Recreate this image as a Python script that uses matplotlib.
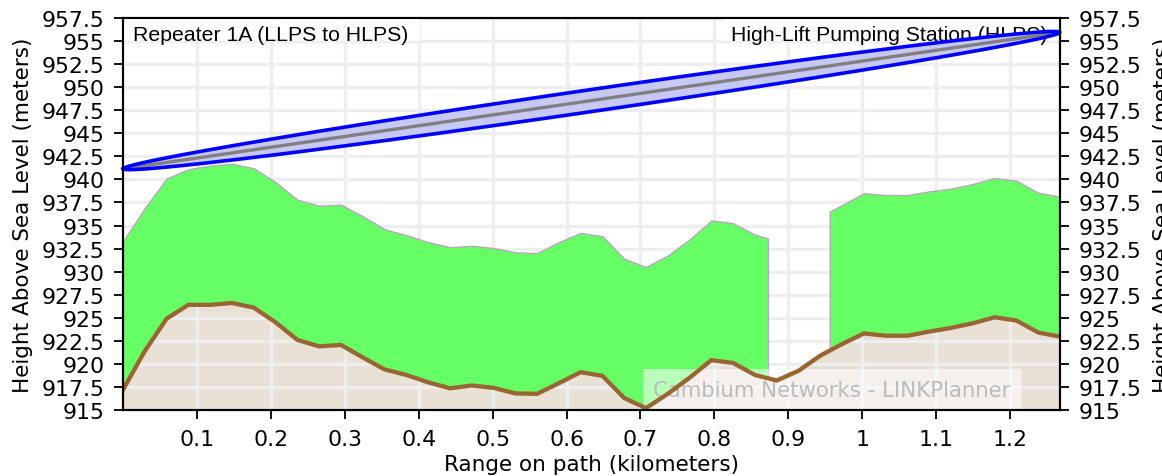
import numpy as np
import matplotlib
matplotlib.use('Agg')
import matplotlib.pyplot as plt
from matplotlib.patches import Rectangle

# ---------------- data ----------------
range_km = [0.0, 0.0295, 0.059, 0.0884, 0.1179, 0.1474, 0.1769, 0.2064, 0.2358, 0.2653,
            0.2948, 0.3243, 0.3538, 0.3832, 0.4127, 0.4422, 0.4717, 0.5012, 0.5306, 0.5601,
            0.5896, 0.6191, 0.6486, 0.678, 0.7075, 0.737, 0.7665, 0.796, 0.8254, 0.8549,
            0.8844, 0.9139, 0.9434, 0.9728, 1.0023, 1.0318, 1.0613, 1.0908, 1.1202, 1.1497,
            1.1792, 1.2087, 1.2382, 1.2676]
terrain_m = [917.2, 921.4, 924.9, 926.4, 926.4, 926.6, 926.1, 924.5, 922.6, 921.9,
             922.05, 920.7, 919.4, 918.8, 918.0, 917.35, 917.65, 917.4, 916.8, 916.75,
             917.9, 919.1, 918.7, 916.3, 915.2, 916.75, 918.5, 920.4, 920.1, 918.8,
             918.2, 919.25, 920.9, 922.15, 923.3, 923.05, 923.05, 923.5, 923.9, 924.4,
             925.05, 924.7, 923.4, 922.95]

clutter_a_km = range_km[0:30] + [0.8725]
clutter_a_top = [933.3, 936.9, 940.1, 941.1, 941.5, 941.7, 941.2, 939.7, 937.8, 937.15,
                 937.25, 936.0, 934.6, 933.95, 933.2, 932.65, 932.8, 932.55, 932.1, 932.0,
                 933.2, 934.2, 933.85, 931.4, 930.5, 931.75, 933.5, 935.55, 935.25, 934.0,
                 933.6]
clutter_b_km = [0.956, 1.0023, 1.0318, 1.0613, 1.0908, 1.1202, 1.1497, 1.1792, 1.2087,
                1.2382, 1.2676]
clutter_b_top = [936.5, 938.5, 938.3, 938.3, 938.7, 939.0, 939.5, 940.15, 939.85,
                 938.55, 938.15]

path_length_km = 1.2676
antenna_left_m = 941.15
antenna_right_m = 955.95
fresnel_radius_m = 1.2

y_ticks = [915, 917.5, 920, 922.5, 925, 927.5, 930, 932.5, 935, 937.5, 940, 942.5,
           945, 947.5, 950, 952.5, 955, 957.5]
x_ticks = [0.1, 0.2, 0.3, 0.4, 0.5, 0.6, 0.7, 0.8, 0.9, 1.0, 1.1, 1.2]
x_tick_labels = ['0.1', '0.2', '0.3', '0.4', '0.5', '0.6', '0.7', '0.8', '0.9', '1',
                 '1.1', '1.2']

left_title = 'Repeater 1A (LLPS to HLPS)'
right_title = 'High-Lift Pumping Station (HLPS)'
watermark = 'Cambium Networks - LINKPlanner'
x_label = 'Range on path (kilometers)'
y_label = 'Height Above Sea Level (meters)'

# ---------------- figure ----------------
plt.rcParams['font.family'] = ['DejaVu Sans']
fig = plt.figure(figsize=(11.62, 4.77), dpi=100)
ax = fig.add_axes([0.1059, 0.1384, 0.8063, 0.8218])

ymin, ymax = 915, 957.5
ax.set_xlim(0, path_length_km)
ax.set_ylim(ymin, ymax)

# earth
ax.fill_between(range_km, ymin, terrain_m, color='#e9e0d6', lw=0, zorder=0.2)

# grid
ax.set_axisbelow(True)
ax.grid(True, color='#eeeeee', lw=2.4, zorder=0.5)

# clutter (green)
for cx, ctop in ((clutter_a_km, clutter_a_top), (clutter_b_km, clutter_b_top)):
    cbot = np.interp(cx, range_km, terrain_m)
    ax.fill_between(cx, cbot, ctop, facecolor='#66ff66', edgecolor='#b8a8bc',
                    lw=1.0, zorder=1)

# watermark
ax.text(0.7567, 0.051, watermark, transform=ax.transAxes, ha='center', va='center',
        fontsize=15.3, color='#bbbbbb', zorder=1.5,
        bbox=dict(boxstyle='square,pad=0.5', facecolor='white', alpha=0.55,
                  edgecolor='none'))

# terrain line
ax.plot(range_km, terrain_m, color='#996633', lw=3.1, zorder=2, solid_joinstyle='miter')

# title boxes
ax.add_patch(Rectangle((0, 1 - 23 / 392), 297 / 937, 23 / 392, transform=ax.transAxes,
                       facecolor='white', edgecolor='none', alpha=0.92, zorder=3))
ax.add_patch(Rectangle((1 - 338 / 937, 1 - 23 / 392), 338 / 937, 23 / 392,
                       transform=ax.transAxes, facecolor='white', edgecolor='none',
                       alpha=0.92, zorder=3))
ax.text(10 / 937, 1 - 21.7 / 392, left_title, transform=ax.transAxes, ha='left',
        va='baseline', fontsize=15.3, family=['Liberation Sans'], color='black', zorder=3.5)
ax.text(1 - 12 / 937, 1 - 21.7 / 392, right_title, transform=ax.transAxes, ha='right',
        va='baseline', fontsize=15.3, family=['Liberation Sans'], color='black', zorder=3.5)

# fresnel zone
xf = np.linspace(0, path_length_km, 400)
los = np.interp(xf, [0, path_length_km], [antenna_left_m, antenna_right_m])
half = path_length_km / 2
r = fresnel_radius_m * np.sqrt(np.clip(xf * (path_length_km - xf), 0, None)) / half
upper = los + r
lower = los - r
ax.fill_between(xf, lower, upper, color='#c8c8f4', lw=0, zorder=4)
ax.plot(xf, los, color='#808080', lw=2.4, zorder=4.5)
ex = np.concatenate([xf, xf[::-1]])
ey = np.concatenate([upper, lower[::-1]])
ax.plot(ex, ey, color='#0000ff', lw=2.6, zorder=5, clip_on=False)

# axes styling
ax.set_xticks(x_ticks)
ax.set_xticklabels(x_tick_labels)
ax.set_yticks(y_ticks)
ax.set_yticklabels(['{:g}'.format(v) for v in y_ticks])
ax.tick_params(direction='out', length=6.5, width=1.3, pad=7, labelsize=15.8,
               colors='black')
for s in ax.spines.values():
    s.set_linewidth(1.5)
ax.set_xlabel(x_label, fontsize=15.5, labelpad=4)
ax.set_ylabel(y_label, fontsize=15.5, labelpad=6)

ax2 = ax.twinx()
ax2.set_ylim(ymin, ymax)
ax2.set_yticks(y_ticks)
ax2.set_yticklabels(['{:g}'.format(v) for v in y_ticks])
ax2.tick_params(direction='out', length=6.5, width=1.3, pad=7, labelsize=15.8,
                colors='black')
for s in ax2.spines.values():
    s.set_linewidth(1.5)
ax2.set_ylabel(y_label, fontsize=15.5, labelpad=8)

fig.savefig('out.png', dpi=100)
